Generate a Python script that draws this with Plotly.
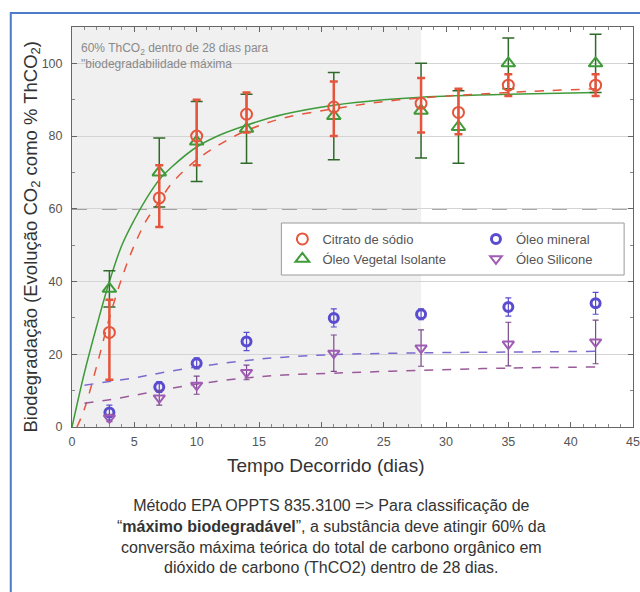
import plotly.graph_objects as go

# ---------------- data ----------------
days_a = [3, 7, 10, 14, 21, 28, 31, 35, 42]
citrato = [26, 63, 80, 86, 88, 89, 86.5, 94, 94]
citrato_err_plus = [9, 9, 10, 6, 7, 7, 6.5, 3, 3]
citrato_err_minus = [13, 8, 8, 5, 8, 8, 6, 3, 3]
vegetal = [38, 70, 78.5, 82, 85.5, 87, 82.5, 100, 100]
vegetal_err = [5, 9.5, 11, 9.5, 12, 13, 10, 7, 8]

days_b = [3, 7, 10, 14, 21, 28, 35, 42]
mineral = [4, 11, 17.5, 23.5, 30, 31, 33, 34]
mineral_err = [2, 1.5, 1.5, 2.5, 2.5, 1.5, 2.5, 3]
silicone = [2.5, 8, 11.5, 15, 20.3, 21.7, 22.8, 23.4]
silicone_err = [1, 2, 2.5, 2, 5, 5, 6, 6]

# fitted curves
fit_veg_x = [0, 1, 2, 3, 4, 5, 6, 7, 8, 10, 12, 14, 17, 21, 25, 28, 35, 42]
fit_veg_y = [0, 15, 28, 40, 50, 57, 63, 68, 71.5, 77, 80.5, 83, 86, 88.5, 90, 90.7, 91.5, 92]
fit_cit_x = [0.4, 1, 2, 3, 4, 5, 6, 7, 8, 10, 12, 14, 17, 21, 25, 28, 35, 42]
fit_cit_y = [0, 5, 17, 30, 41, 50, 57, 62, 67, 73.5, 78, 81.5, 85, 87.5, 89.5, 90.5, 92, 93]
fit_min_x = [1, 3, 5, 7, 10, 14, 17, 21, 28, 35, 42]
fit_min_y = [11.5, 12.5, 13.5, 14.8, 16.5, 18.3, 19.2, 19.9, 20.4, 20.6, 20.8]
fit_sil_x = [1, 3, 5, 7, 10, 14, 17, 21, 28, 35, 42]
fit_sil_y = [6.5, 7.5, 8.7, 10, 11.8, 13.5, 14.3, 14.8, 15.6, 16.2, 16.5]

x_ticks = [0, 5, 10, 15, 20, 25, 30, 35, 40, 45]
y_ticks = [0, 20, 40, 60, 80, 100]

RED = "#e5553c"
GREEN = "#3f9a3a"
BLUE = "#5a4ccf"
PURPLE = "#a05cb4"

# plot area in pixels
L, R, T, B = 72, 640, 27, 427
W, H = 640, 592

def px(x):
    return (x - L) / (R - L)

def py(y):
    return (B - y) / (B - T)

fig = go.Figure()

# fitted curves
fig.add_trace(go.Scatter(x=fit_veg_x, y=fit_veg_y, mode="lines", line=dict(color=GREEN, width=1.5, shape="spline"),
                         showlegend=False, hoverinfo="skip"))
fig.add_trace(go.Scatter(x=fit_cit_x, y=fit_cit_y, mode="lines", line=dict(color=RED, width=1.5, dash="dash", shape="spline"),
                         showlegend=False, hoverinfo="skip"))
fig.add_trace(go.Scatter(x=fit_min_x, y=fit_min_y, mode="lines", line=dict(color="#7a6ad0", width=1.5, dash="dash", shape="spline"),
                         showlegend=False, hoverinfo="skip"))
fig.add_trace(go.Scatter(x=fit_sil_x, y=fit_sil_y, mode="lines", line=dict(color="#9a5a9a", width=1.5, dash="dash", shape="spline"),
                         showlegend=False, hoverinfo="skip"))

# data points
fig.add_trace(go.Scatter(x=days_a, y=vegetal, mode="markers", name="Óleo Vegetal Isolante",
                         marker=dict(symbol="triangle-up-open", size=12, color=GREEN, line=dict(width=2)),
                         error_y=dict(type="data", array=vegetal_err, color="#2f6a2a", thickness=1.5, width=6),
                         legend="legend"))
fig.add_trace(go.Scatter(x=days_a, y=citrato, mode="markers", name="Citrato de sódio",
                         marker=dict(symbol="circle-open", size=11, color=RED, line=dict(width=2)),
                         error_y=dict(type="data", symmetric=False, array=citrato_err_plus, arrayminus=citrato_err_minus,
                                      color=RED, thickness=2.5, width=4),
                         legend="legend"))
fig.add_trace(go.Scatter(x=days_b, y=mineral, mode="markers", name="Óleo mineral",
                         marker=dict(symbol="circle-open", size=9, color=BLUE, line=dict(width=3)),
                         error_y=dict(type="data", array=mineral_err, color=BLUE, thickness=1.2, width=3),
                         legend="legend2"))
fig.add_trace(go.Scatter(x=days_b, y=silicone, mode="markers", name="Óleo Silicone",
                         marker=dict(symbol="triangle-down-open", size=10, color=PURPLE, line=dict(width=2)),
                         error_y=dict(type="data", array=silicone_err, color="#7a4a8a", thickness=1.2, width=3),
                         legend="legend2"))

shapes = [
    # gray shaded 28-day region
    dict(type="rect", xref="x", yref="paper", x0=0, x1=28, y0=0, y1=1, fillcolor="#f0f0f0",
         line=dict(width=0), layer="below"),
    # 60% threshold
    dict(type="line", xref="paper", yref="y", x0=0, x1=1, y0=60, y1=60,
         line=dict(color="#555555", width=1.5, dash="longdash"), layer="below"),
    # legend box
    dict(type="rect", xref="paper", yref="paper", x0=px(284), x1=px(631), y0=py(275), y1=py(223),
         fillcolor="white", line=dict(color="#9a9a9a", width=1), layer="below"),
    # blue outer frame
    dict(type="rect", xref="paper", yref="paper", x0=px(10), x1=px(650), y0=py(600), y1=py(13),
         line=dict(color="#4a7cc8", width=2), fillcolor="rgba(0,0,0,0)"),
]

annotations = [
    dict(xref="paper", yref="paper", x=px(79), y=py(39), xanchor="left", yanchor="top", align="left",
         text="60% ThCO<sub>2</sub> dentro de 28 dias para<br>\"biodegradabilidade máxima",
         showarrow=False, font=dict(size=12, color="#8a8a8a", family="Liberation Sans")),
    dict(xref="paper", yref="paper", x=px(31), y=py(237), xanchor="center", yanchor="middle", textangle=-90,
         text="Biodegradação (Evolução CO<sub>2</sub> como % ThCO<sub>2</sub>)",
         showarrow=False, font=dict(size=18.5, color="#333333", family="Liberation Sans")),
    dict(xref="paper", yref="paper", x=px(329), y=py(465), xanchor="center", yanchor="middle",
         text="Tempo Decorrido (dias)", showarrow=False,
         font=dict(size=19, color="#333333", family="Liberation Sans")),
    dict(xref="paper", yref="paper", x=px(335), y=py(495), xanchor="center", yanchor="top", align="center",
         text=("Método EPA OPPTS 835.3100 => Para classificação de<br>"
               "“<b>máximo biodegradável</b>”, a substância deve atingir 60% da<br>"
               "conversão máxima teórica do total de carbono orgânico em<br>"
               "dióxido de carbono (ThCO2) dentro de 28 dias."),
         showarrow=False, font=dict(size=16, color="#333333", family="Liberation Sans")),
]

axis_common = dict(ticks="inside", mirror="allticks", showline=True, linecolor="#666666", linewidth=1,
                   tickcolor="#666666", ticklen=5, zeroline=False, ticklabeloverflow="allow",
                   tickfont=dict(size=12.5, color="#555555", family="Liberation Sans"))

fig.update_layout(
    width=W, height=H,
    margin=dict(l=L, r=W - R, t=T, b=H - B),
    paper_bgcolor="white", plot_bgcolor="white",
    xaxis=dict(range=[0, 45], tickvals=x_ticks, showgrid=False, ticklabelstandoff=3,
               minor=dict(ticks="inside", ticklen=3, tickcolor="#888888", dtick=1), **axis_common),
    yaxis=dict(range=[0, 110], tickvals=y_ticks, showgrid=True, gridcolor="#d4d4d4", gridwidth=1,
               ticklabelstandoff=6,
               minor=dict(ticks="inside", ticklen=3, tickcolor="#888888", dtick=10), **axis_common),
    shapes=shapes,
    annotations=annotations,
    legend=dict(x=px(285), y=py(224), xanchor="left", yanchor="top", bgcolor="rgba(0,0,0,0)",
                font=dict(size=13, color="#555555", family="Liberation Sans"), tracegroupgap=3,
                traceorder="reversed", itemwidth=30),
    legend2=dict(x=px(481), y=py(224), xanchor="left", yanchor="top", bgcolor="rgba(0,0,0,0)",
                 font=dict(size=13, color="#555555", family="Liberation Sans"), tracegroupgap=3,
                 itemwidth=30),
    showlegend=True,
)

fig.write_html("out.html")
